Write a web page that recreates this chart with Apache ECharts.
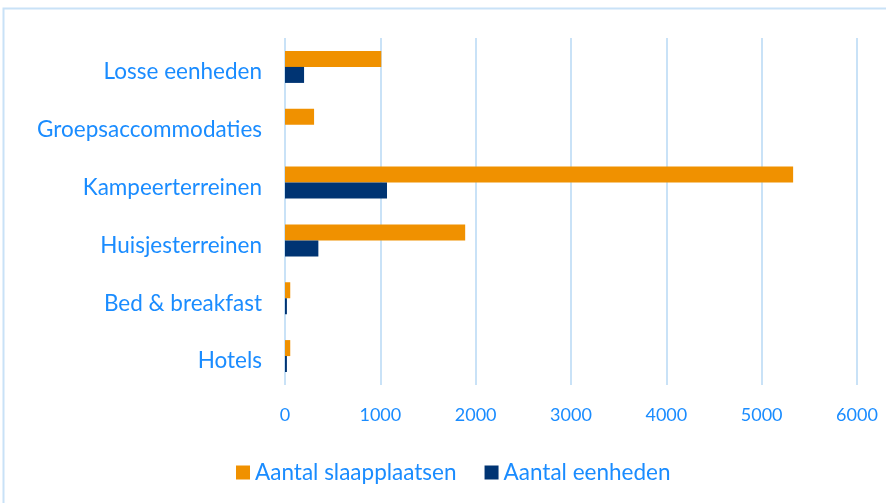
<!doctype html>
<html>
<head>
<meta charset="utf-8">
<title>Slaapplaatsen en eenheden</title>
<script src="https://cdn.jsdelivr.net/npm/echarts@6/dist/echarts.min.js"></script>
<style>
  html, body { margin: 0; padding: 0; background: #fff; }
  #chart { width: 886px; height: 503px; }
</style>
</head>
<body>
<div id="chart"></div>
<script>
// categories from bottom to top
var categories = ['Hotels', 'Bed & breakfast', 'Huisjesterreinen', 'Kampeerterreinen', 'Groepsaccommodaties', 'Losse eenheden'];
var slaapplaatsen = [55, 55, 1890, 5330, 305, 1010];
var eenheden = [20, 20, 350, 1070, 0, 200];
var xTicks = [0, 6000, 1000]; // min, max, interval

var txt = '#1a8cff';
var chart = echarts.init(document.getElementById('chart'));

chart.setOption({
  animation: false,
  textStyle: { fontFamily: 'Lato' },
  graphic: [{
    type: 'rect',
    shape: { x: 3.5, y: 8.5, width: 900, height: 520 },
    style: { fill: 'none', stroke: '#c9e2f7', lineWidth: 2 }
  }],
  grid: { left: 285, right: 29, top: 38, bottom: 118 },
  legend: {
    bottom: 14,
    left: 231,
    itemWidth: 14,
    itemHeight: 14,
    itemGap: 28,
    icon: 'rect',
    data: ['Aantal slaapplaatsen', 'Aantal eenheden'],
    textStyle: { color: txt, fontSize: 22.5, fontFamily: 'Lato' }
  },
  xAxis: {
    type: 'value',
    min: xTicks[0],
    max: xTicks[1],
    interval: xTicks[2],
    axisLine: { show: false },
    axisTick: { show: false },
    axisLabel: {
      color: txt, fontSize: 18, margin: 21, fontFamily: 'Lato',
      formatter: function (v) { return String(v); }
    },
    splitLine: { lineStyle: { color: '#c9e2f7', width: 2 } }
  },
  yAxis: {
    type: 'category',
    data: categories,
    axisLine: { show: false },
    axisTick: { show: false },
    axisLabel: {
      margin: 23,
      formatter: function (v) { return '{c|' + v + '}'; },
      rich: {
        c: { color: txt, fontSize: 22.5, fontFamily: 'Lato', padding: [10, 0, 0, 0] }
      }
    }
  },
  series: [
    {
      name: 'Aantal slaapplaatsen',
      type: 'bar',
      data: slaapplaatsen,
      barWidth: 16,
      barGap: '0%',
      itemStyle: { color: '#f09100' }
    },
    {
      name: 'Aantal eenheden',
      type: 'bar',
      data: eenheden,
      barWidth: 16,
      barGap: '0%',
      itemStyle: { color: '#003473' }
    }
  ]
});
</script>
</body>
</html>
